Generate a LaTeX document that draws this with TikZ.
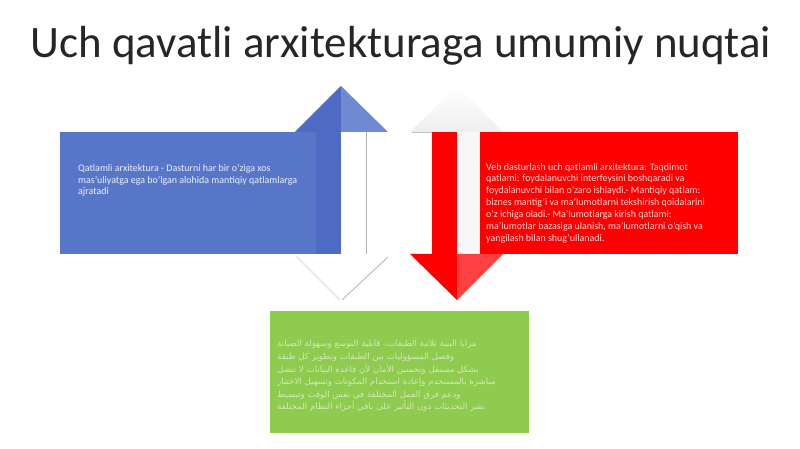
\documentclass[tikz,border=0pt]{standalone}
\usepackage{fontspec}
\setmainfont{Carlito}
\newfontfamily\arabicfont[Script=Arabic]{DejaVu Sans}
\TeXXeTstate=1
\usepackage{tikz}
\usetikzlibrary{positioning}
\definecolor{titlegray}{RGB}{38,38,38}
\definecolor{blueBox}{RGB}{88,118,200}
\definecolor{blueDark}{RGB}{78,106,194}
\definecolor{blueLight}{RGB}{112,137,211}
\definecolor{redBox}{RGB}{255,0,0}
\definecolor{redLight}{RGB}{255,64,64}
\definecolor{greenBox}{RGB}{142,203,78}

\begin{document}
\begin{tikzpicture}[x=0.3175mm,y=-0.3175mm,
panel/.style ={draw=none,inner sep=0pt},
txt/.style ={inner sep=0pt,anchor=north west,align=left,font=\fontsize{9}{10.7}\selectfont}]
\useasboundingbox[fill=white] (0,0) rectangle (800,449);

% title
\node[text=titlegray,font=\fontsize{40.6}{48}\selectfont] (title) at (401,46) {Uch qavatli arxitekturaga umumiy nuqtai};

% blue block with up arrow
\fill[blueBox] (60,132) rectangle (316,254);
\fill[blueDark] (316,132) rectangle (341,254);
\fill[blueDark] (295,132) -- (341,86) -- (341,132) -- cycle;
\fill[blueLight] (341,86) -- (388,132) -- (341,132) -- cycle;
\draw[gray!60,line width=0.6pt] (366,132) -- (366,254);
\draw[gray!15,line width=2pt] (296,256) -- (340,300);
\draw[gray!55,line width=0.8pt] (388,257) -- (342,300);

% red block with down arrow
\shade[top color=white,bottom color=gray!13] (410,132) -- (457,86) -- (503,132) -- cycle;
\fill[gray!6] (457,132) rectangle (480,254);
\draw[gray!50,line width=0.5pt] (412,132) -- (432,132);
\fill[redBox] (432,132) rectangle (457,254);
\fill[redBox] (480,132) rectangle (738,254);
\fill[redBox] (410,254) -- (457,300) -- (457,254) -- cycle;
\fill[redLight] (457,300) -- (503,254) -- (457,254) -- cycle;

% green block
\fill[greenBox] (270,311) rectangle (529,433);

\node[txt,text=white!88!blueBox] (blueText) at (78,164)
{Qatlamli arxitektura - Dasturni har bir o'ziga xos\\
mas'uliyatga ega bo'lgan alohida mantiqiy qatlamlarga\\
ajratadi};

\node[txt,text=white!85!redBox] (redText) at (486,163)
{Veb dasturlash uch qatlamli arxitektura: Taqdimot\\
qatlami: foydalanuvchi interfeysini boshqaradi va\\
foydalanuvchi bilan o'zaro ishlaydi.- Mantiqiy qatlam:\\
biznes mantig'i va ma'lumotlarni tekshirish qoidalarini\\
o'z ichiga oladi.- Ma'lumotlarga kirish qatlami:\\
ma'lumotlar bazasiga ulanish, ma'lumotlarni o'qish va\\
yangilash bilan shug'ullanadi.};

\node[txt,text=white!60!greenBox,font=\arabicfont\fontsize{7.8}{11.4}\selectfont] (greenText) at (277,340)
{\beginR مزايا البنية ثلاثية الطبقات: قابلية التوسع وسهولة الصيانة\endR\\
\beginR وفصل المسؤوليات بين الطبقات وتطوير كل طبقة\endR\\
\beginR بشكل مستقل وتحسين الأمان لأن قاعدة البيانات لا تتصل\endR\\
\beginR مباشرة بالمستخدم وإعادة استخدام المكونات وتسهيل الاختبار\endR\\
\beginR ودعم فرق العمل المختلفة في نفس الوقت وتبسيط\endR\\
\beginR نشر التحديثات دون التأثير على باقي أجزاء النظام المختلفة\endR};
\end{tikzpicture}
\end{document}
